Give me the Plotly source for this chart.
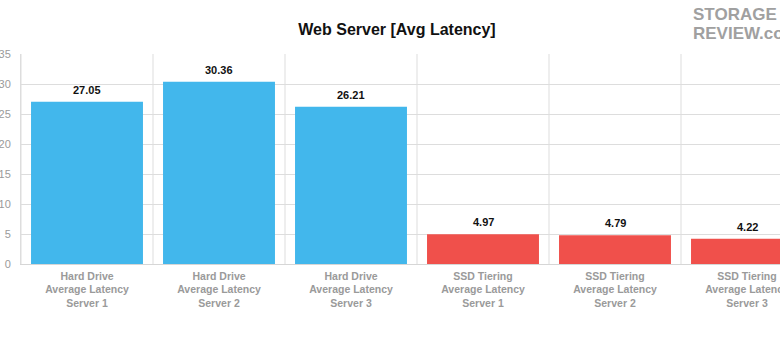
import plotly.graph_objects as go

categories = [
    "Hard Drive<br>Average Latency<br>Server 1",
    "Hard Drive<br>Average Latency<br>Server 2",
    "Hard Drive<br>Average Latency<br>Server 3",
    "SSD Tiering<br>Average Latency<br>Server 1",
    "SSD Tiering<br>Average Latency<br>Server 2",
    "SSD Tiering<br>Average Latency<br>Server 3",
]
values = [27.05, 30.36, 26.21, 4.97, 4.79, 4.22]
colors = ["#42B7EC", "#42B7EC", "#42B7EC", "#F0504B", "#F0504B", "#F0504B"]
y_ticks = [0, 5, 10, 15, 20, 25, 30, 35]

FONT = "Helvetica Neue, Liberation Sans, Arial, sans-serif"

fig = go.Figure()
fig.add_trace(go.Bar(
    x=list(range(len(categories))),
    y=values,
    marker=dict(color=colors, line=dict(width=0)),
    hoverinfo="skip",
))

for i, v in enumerate(values):
    fig.add_annotation(
        x=i, y=v, text="<b>%.2f</b>" % v, showarrow=False,
        yanchor="bottom", yshift=4,
        font=dict(family=FONT, size=11, color="#111111"),
    )

# logo-like text (plot area spans x 21..780, y 54..264 in pixels)
def px_x(p):
    return (p - 21) / 759.0

def px_y(p):
    return (264 - p) / 210.0

fig.add_annotation(xref="paper", yref="paper", x=px_x(692), y=px_y(4), xanchor="left", yanchor="top",
                   text="<b>STORAGE</b>", showarrow=False, borderpad=0,
                   font=dict(family="Liberation Sans Narrow, " + FONT, size=17, color="#a0a0a0"))
fig.add_annotation(xref="paper", yref="paper", x=px_x(692), y=px_y(23), xanchor="left", yanchor="top",
                   text="<b>REVIEW.com</b>", showarrow=False, borderpad=0,
                   font=dict(family="Liberation Sans Narrow, " + FONT, size=17, color="#a0a0a0"))

fig.update_layout(
    width=780, height=337,
    margin=dict(l=21, r=0, t=54, b=73, autoexpand=False),
    paper_bgcolor="white", plot_bgcolor="white",
    bargap=0.152,
    showlegend=False,
    title=dict(text="<b>Web Server [Avg Latency]</b>", x=397/780, xanchor="center",
               y=1 - 29/337, yanchor="middle", xref="container", yref="container",
               font=dict(family=FONT, size=16, color="#111111")),
    xaxis=dict(
        range=[-0.5, -0.5 + 759/132],
        tickmode="array", tickvals=list(range(len(categories))), ticktext=categories,
        showgrid=False, automargin=False,
        showline=True, linecolor="#d6d6d6", linewidth=1,
        ticks="", zeroline=False,
        ticklabeloverflow="allow",
        ticklabelstandoff=2,
        tickfont=dict(family=FONT, size=10.5, color="#9a9a9a", weight="bold"),
        tickangle=0,
    ),
    yaxis=dict(
        range=[0, 35], tickvals=y_ticks, automargin=False,
        showgrid=True, gridcolor="#dddddd", gridwidth=1,
        showline=True, linecolor="#dddddd", linewidth=1,
        zeroline=False, ticks="",
        ticklabelstandoff=7,
        ticklabeloverflow="allow",
        tickfont=dict(family=FONT, size=11, color="#9a9a9a"),
    ),
)

# vertical category boundary lines
for b in range(len(categories)):
    fig.add_shape(type="line", xref="x", yref="y", x0=b - 0.5, x1=b - 0.5, y0=0, y1=35,
                  line=dict(color="#dddddd", width=1), layer="below")

fig.write_html("out.html")
